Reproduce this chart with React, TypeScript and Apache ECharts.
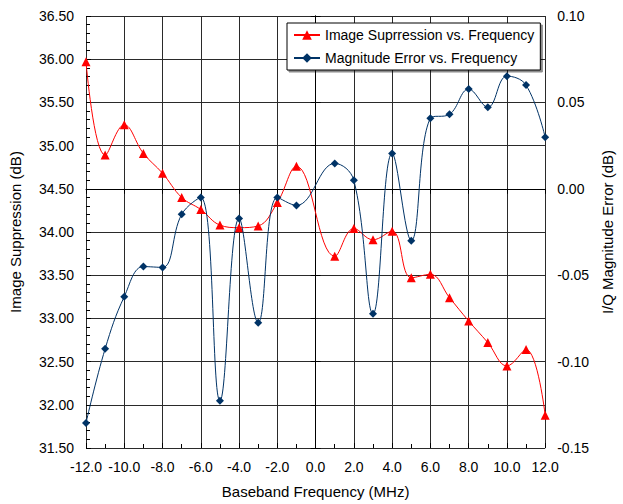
import React, { useEffect, useRef } from "react";
import * as echarts from "echarts";

const freq = [-12, -11, -10, -9, -8, -7, -6, -5, -4, -3, -2, -1, 1, 2, 3, 4, 5, 6, 7, 8, 9, 10, 11, 12];
const imageSuppression = [35.97, 34.89, 35.24, 34.91, 34.68, 34.4, 34.26, 34.08, 34.05, 34.07, 34.34, 34.76, 33.72, 34.04, 33.91, 34.01, 33.47, 33.51, 33.24, 32.97, 32.72, 32.45, 32.64, 31.88];
const magnitudeError = [-0.1355, -0.0926, -0.0624, -0.045, -0.0455, -0.0148, -0.005, -0.1227, -0.0172, -0.0775, -0.005, -0.0096, 0.0147, 0.0049, -0.0723, 0.0205, -0.03, 0.0408, 0.0431, 0.0577, 0.0472, 0.0652, 0.06, 0.0298];
const seriesNames = ["Image Suprression vs. Frequency", "Magnitude Error vs. Frequency"];
const axisNames = ["Baseband Frequency (MHz)", "Image Suppression (dB)", "I/Q Magnitude Error (dB)"];

const FONT = "'Liberation Sans', Arial, sans-serif";

export default function App() {
  const ref = useRef<HTMLDivElement>(null);
  useEffect(() => {
    if (!ref.current) return;
    const chart = echarts.init(ref.current, undefined, { renderer: "svg" });
    const lineCol = "#000";
    const gridCol = "#2a2a2a";
    const labelStyle = { color: "#000", fontSize: 14, fontFamily: FONT };
    chart.setOption({
      animation: false,
      backgroundColor: "#fff",
      textStyle: { fontFamily: FONT },
      grid: { left: 86, right: 72, top: 16, bottom: 56, containLabel: false },
      legend: {
        orient: "vertical",
        left: 287,
        top: 23,
        padding: [5, 6, 5, 6],
        itemGap: 9,
        itemWidth: 26,
        itemHeight: 12,
        borderColor: "#000",
        borderWidth: 1,
        backgroundColor: "#fff",
        shadowColor: "rgba(0,0,0,0.45)",
        shadowOffsetX: 2,
        shadowOffsetY: 2,
        textStyle: { color: "#000", fontSize: 14, fontFamily: FONT },
        data: seriesNames,
      },
      xAxis: [
        {
          type: "value",
          min: -12,
          max: 12,
          interval: 2,
          name: axisNames[0],
          nameLocation: "middle",
          nameGap: 36,
          nameTextStyle: { color: "#000", fontSize: 15, fontFamily: FONT },
          axisLine: { show: true, lineStyle: { color: lineCol, width: 1 } },
          axisTick: { show: true, length: 5, lineStyle: { color: lineCol } },
          axisLabel: { ...labelStyle, margin: 12, formatter: (v: number) => v.toFixed(1) },
          splitLine: { show: true, lineStyle: { color: gridCol, width: 1 } },
        },
        {
          type: "value",
          position: "bottom",
          min: -12,
          max: 12,
          interval: 2,
          axisLine: { show: false },
          axisTick: { show: true, inside: true, length: 5, lineStyle: { color: lineCol } },
          minorTick: { show: true, splitNumber: 2, length: 4, lineStyle: { color: lineCol } },
          axisLabel: { show: false },
          splitLine: { show: false },
        },
      ],
      yAxis: [
        {
          type: "value",
          position: "left",
          min: 31.5,
          max: 36.5,
          interval: 0.5,
          name: axisNames[1],
          nameLocation: "middle",
          nameGap: 63,
          nameTextStyle: { color: "#000", fontSize: 15, fontFamily: FONT },
          axisLine: { show: true, lineStyle: { color: lineCol, width: 1 } },
          axisTick: { show: true, length: 5, lineStyle: { color: lineCol } },
          axisLabel: { ...labelStyle, margin: 12, formatter: (v: number) => v.toFixed(2) },
          splitLine: { show: true, lineStyle: { color: gridCol, width: 1 } },
        },
        {
          type: "value",
          position: "right",
          min: -0.15,
          max: 0.1,
          interval: 0.05,
          name: axisNames[2],
          nameLocation: "middle",
          nameGap: 50,
          nameTextStyle: { color: "#000", fontSize: 15, fontFamily: FONT },
          axisLine: { show: true, lineStyle: { color: lineCol, width: 1 } },
          axisTick: { show: true, length: 5, lineStyle: { color: lineCol } },
          axisLabel: { ...labelStyle, margin: 12, formatter: (v: number) => v.toFixed(2) },
          splitLine: { show: false },
        },
        {
          type: "value",
          position: "left",
          offset: 0,
          min: 31.5,
          max: 36.5,
          interval: 0.5,
          axisLine: { show: false },
          axisTick: { show: true, inside: true, length: 5, lineStyle: { color: lineCol } },
          minorTick: { show: true, splitNumber: 5, length: 4, lineStyle: { color: lineCol } },
          axisLabel: { show: false },
          splitLine: { show: false },
        },
      ],
      series: [
        {
          name: seriesNames[0],
          type: "line",
          xAxisIndex: 0,
          yAxisIndex: 0,
          smooth: 0.4,
          symbol: "triangle",
          symbolSize: 9,
          itemStyle: { color: "#ff0000" },
          lineStyle: { color: "#ff0000", width: 1 },
          data: freq.map((f, i) => [f, imageSuppression[i]]),
          z: 3,
        },
        {
          name: seriesNames[1],
          type: "line",
          xAxisIndex: 0,
          yAxisIndex: 1,
          smooth: 0.4,
          symbol: "diamond",
          symbolSize: 8,
          itemStyle: { color: "#003366" },
          lineStyle: { color: "#003366", width: 1 },
          data: freq.map((f, i) => [f, magnitudeError[i]]),
          z: 4,
        },
      ],
    });
    return () => chart.dispose();
  }, []);
  return <div ref={ref} style={{ width: 623, height: 504, position: "fixed", left: 0, top: 0 }} />;
}
